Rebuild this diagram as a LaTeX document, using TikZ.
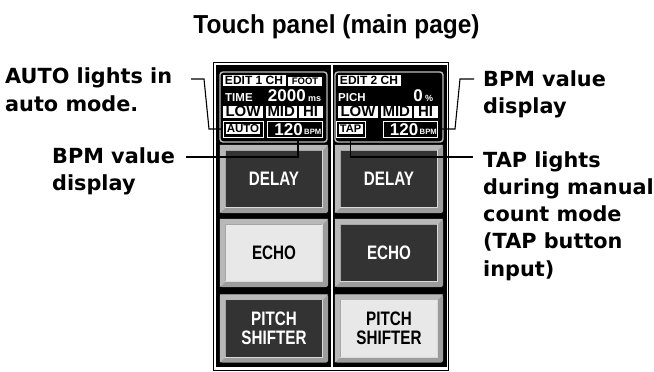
\documentclass[tikz,border=0pt]{standalone}
\usepackage{fontspec}
\setmainfont{Liberation Sans}
\newfontfamily\lblfont{DejaVu Sans}
\newfontfamily\condfont[FakeStretch=0.78]{Liberation Sans}
\newfontfamily\titlefont[FakeStretch=0.94]{Liberation Sans}
\definecolor{btngray}{HTML}{9C9C9C}
\definecolor{btnlite}{HTML}{B8B8B8}
\definecolor{facedark}{HTML}{333333}
\definecolor{facelight}{HTML}{E8E8E8}
\definecolor{dispgray}{HTML}{BDBDBD}
\definecolor{facehl}{HTML}{DADADA}
\newcommand\fsz[1]{\fontsize{#1}{#1}\selectfont\bfseries}
\tikzset{
  lbl/.style={font=\lblfont\bfseries\fontsize{20.8}{27.3}\selectfont, align=left, inner sep=0pt, anchor=base west},
  leader/.style={draw=black, line width=1.1pt, line join=miter},
  disp/.style={draw=dispgray, line width=1.4pt, fill=black, rounded corners=3pt, minimum height=70pt, inner sep=0pt},
  wbox/.style={fill=white, text=black, inner sep=0pt, minimum height=11pt},
  lmh/.style={wbox, minimum height=12pt, font=\fsz{15}},
  dtext/.style={text=white, inner sep=0pt},
  fbox/.style={draw=white, line width=1pt, fill=black, minimum height=16pt, inner sep=0pt},
  btnframe/.style={fill=btngray, rounded corners=2pt, minimum width=108pt, minimum height=68pt, inner sep=0pt},
  face/.style={minimum width=97pt, minimum height=57pt, inner sep=0pt, align=center,
    font=\condfont\bfseries\fontsize{19.5}{18.5}\selectfont},
  dark/.style={fill=facedark, text=white},
  light/.style={fill=facelight, text=black},
}
\newcommand\mkbtn[5]{%
  \node[btnframe] (#1) at (#2,#3) {};
  \fill[btnlite] (#1.north west) -- (#1.north east) -- ([shift={(-5.5pt,-5.5pt)}]#1.north east)
     -- ([shift={(5.5pt,-5.5pt)}]#1.north west) -- ([shift={(5.5pt,5.5pt)}]#1.south west) -- (#1.south west) -- cycle;
  \node[face, #4] (#1f) at (#2,#3) {#5};
  \draw[facehl, line width=0.8pt] (#1f.north east) -- (#1f.south east) -- (#1f.south west);
}
\begin{document}
\begin{tikzpicture}[x=1pt,y=-1pt]
\useasboundingbox (0,0) rectangle (654,372);
\fill[white] (0,0) rectangle (654,372);

\node[font=\titlefont\bfseries\fontsize{26}{26}\selectfont, anchor=base, inner sep=0pt] (title) at (336.5,33) {Touch panel (main page)};

% panel frame
\node[draw=black, line width=1pt, minimum width=235.3pt, minimum height=308.5pt, inner sep=0pt] (frame) at (331.15,216.25) {};
\node[fill=black, minimum width=230.5pt, minimum height=302.5pt, inner sep=0pt] (panel) at (331.25,215.75) {};
\draw[white, line width=2pt] ([xshift=0.55pt]panel.north) -- ([xshift=0.55pt]panel.south);

% displays
\node[disp, minimum width=107pt] (d1) at (273.5,107) {};
\node[disp, minimum width=108pt] (d2) at (389,107) {};

% left display contents
\node[wbox, minimum width=63pt, font=\fsz{12}] (e1) at (254,80.5) {EDIT 1 CH};
\node[wbox, minimum width=34pt, minimum height=9pt, font=\fsz{9.5}] (foot) at (305,81.5) {FOOT};
\node[dtext, anchor=base west, font=\fsz{11.5}] (time) at (225,101) {TIME};
\node[dtext, anchor=base east, font=\fsz{17}] (v1) at (306,101) {2000};
\node[dtext, anchor=base west, font=\fsz{9}] (ms) at (308,101) {ms};
\node[lmh, minimum width=40pt] (low1) at (243,111.5) {LOW};
\node[lmh, minimum width=30.5pt] (mid1) at (281.25,111.5) {MID};
\node[lmh, minimum width=24pt] (hi1) at (310.5,111.5) {HI};
\node[fbox, minimum width=40pt] (auto) at (243,129) {};
\node[wbox, minimum width=34pt, minimum height=10.5pt, font=\fsz{11.5}] (autot) at (auto) {AUTO};
\node[fbox, minimum width=54.5pt] (bpm1) at (295,129) {};
\node[dtext, anchor=base east, font=\fsz{17}] (n1) at (303,135) {120};
\node[dtext, anchor=base west, font=\fsz{7.7}] (u1) at (304,134.5) {BPM};

% right display contents
\node[wbox, minimum width=63pt, font=\fsz{12}] (e2) at (369,80.5) {EDIT 2 CH};
\node[dtext, anchor=base west, font=\fsz{11.5}] (pich) at (338,101) {PICH};
\node[dtext, anchor=base east, font=\fsz{17}] (v2) at (423,101) {0};
\node[dtext, anchor=base west, font=\fsz{9}] (pct) at (425,101) {\%};
\node[lmh, minimum width=40pt] (low2) at (358,111.5) {LOW};
\node[lmh, minimum width=30.5pt] (mid2) at (396.25,111.5) {MID};
\node[lmh, minimum width=24pt] (hi2) at (425.5,111.5) {HI};
\node[fbox, minimum width=29pt] (tap) at (350.5,129) {};
\node[wbox, minimum width=24pt, minimum height=10.5pt, font=\fsz{11}] (tapt) at (tap) {TAP};
\node[fbox, minimum width=54.5pt] (bpm2) at (410.5,129) {};
\node[dtext, anchor=base east, font=\fsz{17}] (n2) at (418.5,135) {120};
\node[dtext, anchor=base west, font=\fsz{7.7}] (u2) at (419.5,134.5) {BPM};

% buttons
\mkbtn{b11}{274}{179}{dark}{DELAY}
\mkbtn{b21}{389}{179}{dark}{DELAY}
\mkbtn{b12}{274}{253}{light}{ECHO}
\mkbtn{b22}{389}{253}{dark}{ECHO}
\mkbtn{b13}{274}{328.5}{dark}{PITCH\\SHIFTER}
\mkbtn{b23}{389}{328.5}{light}{PITCH\\SHIFTER}

% labels (anchor = baseline of last line)
\node[lbl] (L1) at (5,111) {AUTO lights in\\auto mode.};
\node[lbl] (L2) at (52,190.3) {BPM value\\display};
\node[lbl] (L3) at (483,113.5) {BPM value\\display};
\node[lbl] (L4) at (483,276.2) {TAP lights\\during manual\\count mode\\(TAP button\\input)};

% leaders
\coordinate (la) at (191,79);
\draw[leader] (la) -- (204,79) -- (209,129) -- (auto.west);
\coordinate (lb) at (186,157);
\draw[leader] (lb) -| ([xshift=3pt]bpm1.south);
\coordinate (lt) at (473,157);
\draw[leader] (lt) -| (tap.south);
\coordinate (lr) at (474,79);
\draw[leader] (lr) -- (460,79) -- (455,129) -- (bpm2.east);
\end{tikzpicture}
\end{document}
